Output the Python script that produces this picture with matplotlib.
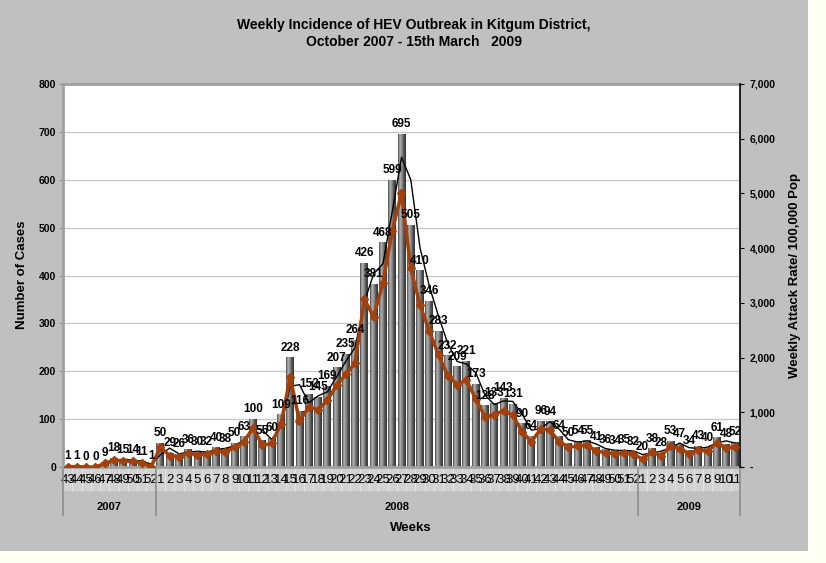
import matplotlib.pyplot as plt
import numpy as np
import pandas as pd
from matplotlib.colors import LinearSegmentedColormap
from matplotlib.patches import Rectangle
from matplotlib.ticker import FuncFormatter

plt.rcParams['font.family'] = ['Liberation Sans', 'DejaVu Sans']

# weekly cases (bars, left axis)
weeks_2007 = list(range(43, 53))
weeks_2008 = list(range(1, 53))
weeks_2009 = list(range(1, 12))
cases_2007 = [1, 1, 0, 0, 9, 18, 15, 14, 11, 1]
cases_2008 = [50, 29, 26, 36, 30, 32, 40, 38, 50, 63,
              100, 55, 60, 109, 228, 116, 152, 145, 169, 207,
              235, 264, 426, 381, 468, 599, 695, 505, 410, 346,
              283, 232, 209, 221, 173, 128, 133, 143, 131, 90,
              64, 96, 94, 64, 50, 54, 55, 41, 36, 34,
              35, 32]
cases_2009 = [20, 38, 28, 53, 47, 34, 43, 40, 61, 48, 52]

# weekly attack rate per 100,000 (brown line, right axis)
rate_2007 = [7, 7, 0, 0, 65, 130, 108, 101, 79, 7]
rate_2008 = [360, 209, 187, 259, 216, 230, 288, 274, 360, 454,
             720, 396, 432, 785, 1642, 835, 1094, 1044, 1217, 1490,
             1692, 1901, 3067, 2743, 3370, 4313, 5004, 3636, 2952, 2491,
             2038, 1670, 1505, 1591, 1246, 922, 958, 1030, 943, 648,
             461, 691, 677, 461, 360, 389, 396, 295, 259, 245,
             252, 230]
rate_2009 = [144, 274, 202, 382, 338, 245, 310, 288, 439, 346, 374]

years = ['2007', '2008', '2009']

week_labels = [str(w) for w in weeks_2007 + weeks_2008 + weeks_2009]
cases = cases_2007 + cases_2008 + cases_2009
rate = rate_2007 + rate_2008 + rate_2009
year_sizes = [len(weeks_2007), len(weeks_2008), len(weeks_2009)]
n = len(cases)
x = np.arange(n)

W, H = 826, 563
fig = plt.figure(figsize=(W / 100, H / 100), dpi=100, facecolor='#fffef2')
fig.patches.append(Rectangle((0, 12 / H), 808 / W, 551 / H, transform=fig.transFigure,
                             facecolor='#c0c0c0', edgecolor='none', zorder=-10))

ax = fig.add_axes([63 / W, 96 / H, 677 / W, 383 / H])
ax.set_facecolor('white')

# cylinder-ish grey bars
cmap = LinearSegmentedColormap.from_list('bar', ['#484848', '#b4b4b4', '#8c8c8c', '#505050', '#343434'])
grad = np.linspace(0, 1, 40)[None, :]
bw = 0.85
for i, c in enumerate(cases):
    if c <= 0:
        continue
    ax.imshow(grad, cmap=cmap, aspect='auto', interpolation='bilinear',
              extent=[i - bw / 2, i + bw / 2, 0, c], zorder=2)

# 2 week moving average trendline
ma = pd.Series(cases).rolling(2).mean()
ax.plot(x, ma, color='black', lw=1, zorder=3)

ax.set_xlim(-0.5, n - 0.5)
ax.set_ylim(0, 800)
ax.set_yticks(range(0, 801, 100))
ax.yaxis.grid(True, color='#c8c8c8', lw=1)
ax.tick_params(axis='y', labelsize=7.5, length=3, color='#909090', pad=2)
for lab in ax.get_yticklabels():
    lab.set_fontweight('bold')
ax.set_xticks(x)
ax.set_xticklabels(week_labels, fontsize=9.5)
ax.tick_params(axis='x', length=0, pad=5)
for side in ['left', 'top', 'bottom']:
    ax.spines[side].set_color('#a0a0a0')
    ax.spines[side].set_linewidth(2)
ax.spines['right'].set_visible(False)

# category band under the bars
band = 24 / 383
ax.add_patch(Rectangle((-0.5, -band), n, band, transform=ax.get_xaxis_transform(),
                       facecolor='#d2d2d2', edgecolor='none', clip_on=False, zorder=1))
for b in np.arange(0.5, n - 1, 1):
    ax.plot([b, b], [-band, 0], transform=ax.get_xaxis_transform(), color='#e2e2e2',
            lw=0.8, clip_on=False, zorder=1)

# year groups
edges = np.concatenate([[0], np.cumsum(year_sizes)]) - 0.5
for e in edges:
    ax.plot([e, e], [0, -48 / 383], transform=ax.get_xaxis_transform(), color='#8c8c8c',
            lw=1.2, clip_on=False)
for k, yr in enumerate(years):
    ax.text((edges[k] + edges[k + 1]) / 2, -40 / 383, yr, transform=ax.get_xaxis_transform(),
            ha='center', va='center', fontsize=8, fontweight='bold')

ax2 = ax.twinx()
ax2.plot(x, rate, color='#a3400c', lw=2.5, marker='D', ms=4.5, zorder=4)
ax2.set_ylim(0, 7000)
ax2.set_yticks(range(0, 7001, 1000))
ax2.yaxis.set_major_formatter(FuncFormatter(lambda v, p: '-' if v == 0 else f'{v:,.0f}'))
ax2.tick_params(axis='y', labelsize=7.5, length=3, color='black', pad=4)
for lab in ax2.get_yticklabels():
    lab.set_fontweight('bold')
for side in ['left', 'top', 'bottom']:
    ax2.spines[side].set_visible(False)
ax2.spines['right'].set_color('black')
ax2.spines['right'].set_linewidth(1.2)

# data labels
for i, c in enumerate(cases):
    ax2.annotate(str(c), xy=(i, c), xycoords=ax.transData, xytext=(0, 3),
                 textcoords='offset points', ha='center', va='bottom',
                 fontsize=8.5, fontweight='bold', zorder=5)

fig.text(414 / W, 1 - 25 / H, 'Weekly Incidence of HEV Outbreak in Kitgum District,',
         ha='center', va='center', fontsize=10, fontweight='bold')
fig.text(414 / W, 1 - 42 / H, 'October 2007 - 15th March   2009',
         ha='center', va='center', fontsize=10, fontweight='bold')
fig.text(22 / W, 1 - 275 / H, 'Number of Cases', rotation=90, ha='center', va='center',
         fontsize=9.5, fontweight='bold')
fig.text(795 / W, 1 - 275 / H, 'Weekly Attack Rate/ 100,000 Pop', rotation=90,
         ha='center', va='center', fontsize=9.5, fontweight='bold')
fig.text(411 / W, 1 - 528 / H, 'Weeks', ha='center', va='center', fontsize=9.5,
         fontweight='bold')

plt.savefig('out.png', dpi=100, facecolor=fig.get_facecolor())
